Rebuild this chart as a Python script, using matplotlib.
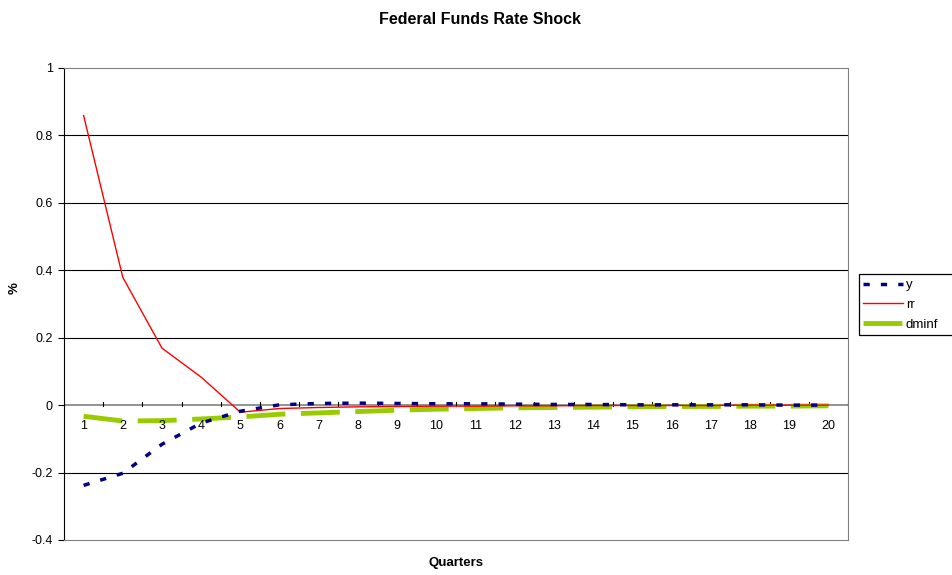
import matplotlib
matplotlib.use("Agg")
import matplotlib.pyplot as plt
from matplotlib.patches import Rectangle
import numpy as np

plt.rcParams['font.family'] = ['Liberation Sans', 'DejaVu Sans']

quarters = [str(i) for i in range(1, 21)]
y_vals = [-0.238, -0.202, -0.116, -0.053, -0.018, 0.001, 0.005, 0.006, 0.005, 0.004,
          0.004, 0.003, 0.002, 0.002, 0.001, 0.001, 0.001, 0.001, 0.000, 0.000]
rr_vals = [0.859, 0.379, 0.169, 0.083, -0.021, -0.010, -0.007, -0.005, -0.004, -0.003,
           -0.003, -0.002, -0.002, -0.001, -0.001, -0.001, -0.001, 0.000, 0.000, 0.000]
dminf_vals = [-0.033, -0.047, -0.046, -0.041, -0.035, -0.027, -0.023, -0.019, -0.015, -0.012,
              -0.010, -0.008, -0.007, -0.006, -0.005, -0.004, -0.004, -0.003, -0.003, -0.002]
yticks = [-0.4, -0.2, 0, 0.2, 0.4, 0.6, 0.8, 1]
ytick_labels = ['-0.4', '-0.2', '0', '0.2', '0.4', '0.6', '0.8', '1']

W, H = 953, 575
fig = plt.figure(figsize=(W/100, H/100), dpi=100)
L, R, T, B = 64, 848, 68, 540
ax = fig.add_axes([L/W, 1-B/H, (R-L)/W, (B-T)/H])

x = np.arange(len(quarters))
ax.set_xlim(-0.5, len(quarters) - 0.5)
ax.set_ylim(-0.4, 1.0)

for t in yticks:
    if t not in (0, 1, -0.4):
        ax.axhline(t, color='black', lw=0.8, zorder=1)
ax.axhline(0, color='#808080', lw=1.2, zorder=1)

ax.plot(x, dminf_vals, color='#99CC00', lw=3.5, dashes=(8, 3.2), label='dminf', zorder=3)
ax.plot(x, rr_vals, color='#FF0000', lw=1.0, label='rr', zorder=4)
ax.plot(x, y_vals, color='#000080', lw=2.5, dashes=(1.8, 3.2), label='y', zorder=5)

ax.set_yticks(yticks)
ax.set_yticklabels(ytick_labels, fontsize=9)
ax.tick_params(axis='y', direction='out', length=4, width=0.8, pad=4)
ax.set_xticks([])

# category tick marks on the zero line
for b in np.arange(-0.5, len(quarters) + 0.5, 1.0):
    ax.plot([b, b], [-0.004, 0.008], color='black', lw=0.8, zorder=2)
for xi, lab in zip(x, quarters):
    ax.text(xi, -0.043, lab, ha='center', va='top', fontsize=9, zorder=6)

for side in ['top', 'right', 'bottom']:
    ax.spines[side].set_color('#808080')
ax.spines['left'].set_color('black')

fig.text(480/W, 1-19.5/H, 'Federal Funds Rate Shock', ha='center', va='center',
         fontsize=11.5, fontweight='bold')
fig.text((L+R)/2/W, 1-563/H, 'Quarters', ha='center', va='center', fontsize=9.5, fontweight='bold')
fig.text(15/W, 1-288/H, '%', ha='center', va='center', rotation=90, fontsize=9.5, fontweight='bold')

handles, labels = ax.get_legend_handles_labels()
order = [2, 1, 0]
leg = fig.legend([handles[i] for i in order], [labels[i] for i in order],
                 loc='upper left', bbox_to_anchor=(859/W, 1-275/H),
                 fontsize=9.5, frameon=False, handlelength=3.0,
                 borderpad=0.3, labelspacing=0.58, handletextpad=0.25, borderaxespad=0)
fig.patches.append(Rectangle((859/W, 1-335/H), 110/W, 61/H, transform=fig.transFigure,
                             fill=False, edgecolor='black', lw=0.9))

fig.savefig('out.png', dpi=100)
